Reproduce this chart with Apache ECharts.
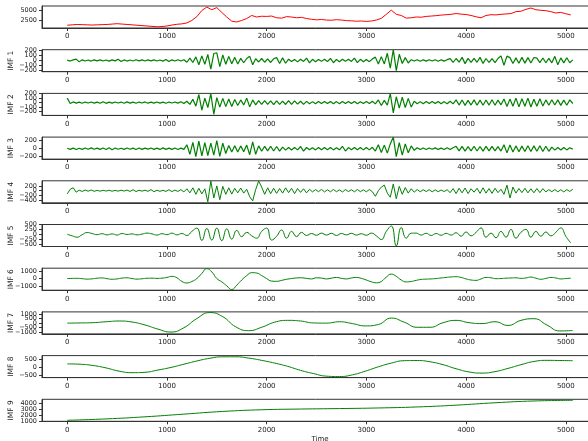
<!DOCTYPE html>
<html>
<head>
<meta charset="utf-8">
<script src="https://cdn.jsdelivr.net/npm/echarts@6/dist/echarts.min.js"></script>
<style>
  html, body { margin: 0; padding: 0; background: #fff; }
  #chart { width: 588px; height: 441px; }
</style>
</head>
<body>
<div id="chart"></div>
<script>
// time axis ticks
const xTicks = [0, 1000, 2000, 3000, 4000, 5000]

// original series, one value every 50 time steps
const price = [
  1150, 1250, 1350, 1300, 1250, 1200, 1250, 1300, 1350, 1450,
  1550, 1450, 1350, 1250, 1150, 1050, 950, 850, 750, 800,
  950, 1200, 1400, 1500, 1750, 2400, 3400, 5000, 5900, 5200,
  5750, 4500, 3300, 2200, 2000, 2400, 2900, 3700, 3300, 3500,
  3450, 3550, 3100, 3000, 3400, 3300, 3100, 3200, 2900, 2700,
  2550, 2650, 2500, 2450, 2600, 2500, 2350, 2300, 2200, 2250,
  2150, 2250, 2500, 2950, 4000, 5100, 4000, 3700, 3000, 3100,
  3300, 3250, 3450, 3550, 3650, 3800, 3900, 4000, 4200, 4050,
  3950, 3700, 3350, 3100, 3700, 3900, 3850, 4000, 4100, 4200,
  4700, 4800, 5300, 5650, 5200, 5050, 4950, 4700, 4350, 4500,
  4150, 3850
]

// IMF 1-4, one value every 30 time steps
const imf1 = [
  5, -12, 10, 25, -28, 12, -10, 8, -12, 10,
  -8, 12, -10, 9, -14, 11, -9, 22, -20, 10,
  -12, 8, -10, 13, -9, 11, -12, 10, -8, 12,
  -11, 9, -13, 20, -22, 12, -10, 14, -12, 15,
  -35, 45, -40, 70, -85, 90, -75, 120, -170, 135,
  150, -120, 110, -75, 80, -65, 60, -70, 40, -45,
  38, 80, -85, 35, -30, 38, -35, 30, -40, 32,
  55, -60, 50, -55, 25, -22, 20, -28, 24, -20,
  45, -48, 22, -25, 20, -18, 24, -22, 42, -45,
  20, -24, 22, -18, 25, -20, 45, -42, 22, -25,
  20, -24, 28, 65, -70, 75, -68, 140, -150, 210,
  -200, 120, -60, 55, -50, 15, -12, 14, -15, 12,
  -14, 15, -12, 13, -15, 12, -14, 15, 35, -40,
  38, -35, 60, -62, 40, -38, 42, -36, 60, -58,
  38, -40, 35, -42, 38, 90, -95, 85, 55, -58,
  50, -55, 60, -52, 55, -50, 58, 45, -42, 48,
  -45, 40, -46, 80, -85, 50, -48, 52, -45, 10
]
const imf2 = [
  100, -20, 15, -12, 10, -14, 12, -10, 13, -11,
  10, -15, 18, -16, 10, -12, 14, -10, 12, -15,
  16, -12, 10, -14, 12, -10, 15, -13, 10, -12,
  14, -11, 10, -15, 12, -10, 14, -12, 18, -20,
  30, -40, 75, -80, 180, -170, 100, -110, 200, -260,
  110, -100, 95, -90, 80, -85, 70, -65, 60, -55,
  100, -95, 60, -50, 45, -40, 42, -38, 40, -45,
  38, -40, 35, -42, 45, -38, 40, -35, 30, -38,
  28, -25, 22, -26, 24, -20, 25, -22, 26, -24,
  22, -25, 24, -20, 26, -22, 24, -25, 20, -22,
  25, -22, 30, -28, 60, -65, 50, -55, 200, -230,
  130, -125, 120, -110, 95, -100, 30, -25, 22, -26,
  24, -20, 25, -22, 26, -24, 22, -25, 30, -28,
  60, -55, 58, -62, 50, -55, 60, -58, 55, -60,
  58, -55, 62, -60, 55, -50, 80, -85, 78, -82,
  100, -95, 85, -80, 100, -98, 75, -80, 85, -78,
  60, -58, 62, -55, 60, -62, 55, -58, 60, -20
]
const imf3 = [
  10, -18, 15, -20, 12, -16, 18, -14, 20, -15,
  14, -18, 16, -20, 22, -25, 18, -15, 12, -16,
  18, -14, 15, -20, 16, -18, 14, -12, 18, -16,
  15, -18, 20, -16, 14, -18, 16, -20, 15, -18,
  100, -140, 160, -200, 190, -180, 150, -170, 140, -160,
  200, -190, 140, -120, 80, -85, 75, -80, 70, -75,
  90, -150, 170, -140, 70, -65, 60, -55, 62, -58,
  55, -60, 40, -35, 30, -32, 28, -30, 55, -60,
  30, -28, 25, -30, 28, -26, 30, -25, 28, -30,
  25, -28, 60, -58, 28, -25, 30, -26, 28, -30,
  32, -30, 35, -60, 100, -95, 90, -110, 120, 290,
  -200, 150, -160, 120, -100, 70, -40, 25, -20, 18,
  -20, 18, -15, 20, -18, 15, -20, 22, -18, 25,
  60, -55, 58, -60, 50, -55, 62, -58, 55, -60,
  58, -55, 60, -55, 50, -60, 100, -105, 95, -80,
  70, -75, 65, -70, 72, -68, 70, -65, 72, -70,
  60, -65, 40, -35, 30, -32, 28, -30, 25, -10
]
const imf4 = [
  -130, 60, 120, -60, 20, -30, 25, -20, 30, -25,
  15, -20, 18, -15, 20, -22, 15, -18, 20, -15,
  25, -30, 40, -35, 20, -18, 22, -25, 45, -40,
  20, -25, 18, -30, 40, -35, 25, -30, 45, -50,
  80, -90, 120, -150, 100, -130, 80, -460, 400, -300,
  200, -370, 180, -150, 120, -140, 100, -90, 110, -100,
  60, -250, -420, 50, 400, 150, -150, 120, -120, 100,
  -110, 90, -100, 120, -80, 100, -120, 90, -70, 80,
  -90, 60, -50, 45, -40, 55, -50, 40, -45, 50,
  -40, 35, -50, 45, -35, 40, -45, 50, -40, 35,
  -45, 50, -40, -230, 0, 150, 230, -100, -270, 280,
  -330, 180, -150, 130, -100, 80, -60, 50, -45, 40,
  -35, 40, -45, 35, -40, 30, -35, 40, -80, 90,
  -120, 100, -90, 110, -120, 80, -60, 100, -110, 120,
  -100, 90, -110, 100, -80, 60, -150, 230, -300, 150,
  -100, 90, -80, 100, -90, 80, -85, 90, -80, 85,
  -50, 45, -40, 50, -45, 40, -50, 45, -30, 60
]

// IMF 5-6, one value every 50 time steps
const imf5 = [
  0, -80, -150, -20, 90, 40, -20, 30, -30, 20,
  -40, 40, -10, 20, -30, 10, 60, 20, -40, 30,
  -20, 60, -30, 40, -60, 150, 320, -320, 300, -300,
  320, -330, 280, -250, 200, -120, 100, -80, -200, 150,
  320, -300, -100, 220, -200, 150, -120, 100, -60, 40,
  -50, 60, -40, 50, -60, 40, -30, 50, -40, 30,
  -50, 60, -80, -270, 150, 430, -600, 350, -200, 60,
  60, -40, 50, -60, 40, -50, 50, -40, 80, -100,
  120, -80, 100, 330, -150, 60, -180, 150, -150, 250,
  -200, 100, 250, -150, 150, -100, 120, -80, 100, 330,
  -100, -450
]
const imf6 = [
  0, 20, 30, -20, -80, -40, 50, 80, -20, -100,
  -50, 60, 100, 0, -80, -30, 40, 50, 20, 50,
  150, 300, 100, -400, -600, -400, 0, 700, 1350, 900,
  0, -450, -1000, -1500, -900, -200, 400, 800, 750, 400,
  0, -350, -380, -250, -100, 0, 80, 100, 20, -50,
  100, 60, -50, 50, 150, 30, -50, 80, 150, 20,
  -200, -450, -580, -400, 200, 600, 300, -200, -460, -400,
  -250, -120, -80, -50, 0, 80, 150, 220, 250, 150,
  -50, -200, -250, -50, 150, 100, -20, 0, 50, 80,
  100, 20, 80, 200, 50, -100, 20, 150, 80, -50,
  0, 50
]

// IMF 7-8, one value every 130 time steps
const imf7 = [
  0, 20, 50, 150, 230, 120, -200, -650, -970, -500,
  500, 1150, 700, -400, -820, -450, 100, 300, 230, 20,
  0, 150, -50, -300, -150, 550, 100, -450, -450, 50,
  300, 50, -50, 150, -250, 300, 480, -200, -850, -800
]
const imf8 = [
  200, 180, 100, -50, -250, -345, -320, -180, -20, 180,
  380, 550, 640, 640, 560, 420, 250, 50, -200, -400,
  -560, -585, -480, -250, 20, 250, 400, 410, 330, 150,
  -100, -300, -370, -280, -80, 150, 350, 420, 410, 400
]

// IMF 9 (residue), one value every 390 time steps
const imf9 = [1120, 1350, 1700, 2150, 2600, 2880, 3000, 3080, 3180, 3350, 3650, 4050, 4350, 4460]

const seriesValues = [price, imf1, imf2, imf3, imf4, imf5, imf6, imf7, imf8, imf9]
const seriesSteps = [50, 30, 30, 30, 30, 50, 50, 130, 130, 390]
const yNames = ['', 'IMF 1', 'IMF 2', 'IMF 3', 'IMF 4', 'IMF 5', 'IMF 6', 'IMF 7', 'IMF 8', 'IMF 9']
const yTicks = [
  [2500, 5000],
  [-200, -100, 0, 100, 200],
  [-200, -100, 0, 100, 200],
  [-200, 0, 200],
  [-400, -200, 0, 200],
  [-500, -250, 0, 250, 500],
  [-1000, 0, 1000],
  [-1000, -500, 0, 500, 1000],
  [-500, 0, 500],
  [1000, 2000, 3000, 4000],
]
const yRanges = [
  [425, 6175], [-220, 210], [-285, 205], [-260, 290], [-500, 410],
  [-630, 505], [-1590, 1410], [-1170, 1220], [-650, 715], [950, 4630],
]

const chart = echarts.init(document.getElementById('chart'))
const font = 'DejaVu Sans'
const axisColor = '#333'
const textColor = '#222'
const grids = []
const xAxes = []
const yAxes = []
const series = []

seriesValues.forEach((values, i) => {
  const last = i === seriesValues.length - 1
  const [yMin, yMax] = yRanges[i]
  grids.push({
    left: 42,
    right: -10,
    top: 6 + i * 43.7,
    height: 22,
    outerBoundsMode: 'none',
    containLabel: false,
    show: true,
    borderColor: axisColor,
    borderWidth: 1,
  })
  xAxes.push({
    type: 'value',
    gridIndex: i,
    min: -253,
    max: 5323,
    name: last ? 'Time' : '',
    nameLocation: 'middle',
    nameGap: 14,
    nameTextStyle: { fontFamily: font, fontSize: 7, color: textColor },
    axisLine: { show: true, onZero: false, lineStyle: { color: axisColor, width: 1 } },
    axisTick: { show: true, length: 3, customValues: xTicks, lineStyle: { color: axisColor } },
    axisLabel: {
      customValues: xTicks,
      margin: 5,
      fontFamily: font,
      fontSize: 7,
      color: textColor,
      hideOverlap: false,
      formatter: (v) => String(v),
    },
    splitLine: { show: false },
  })
  // main y axis: line, ticks and the IMF name, no labels
  const mainIndex = yAxes.length
  yAxes.push({
    type: 'value',
    gridIndex: i,
    position: 'left',
    min: yMin,
    max: yMax,
    name: yNames[i],
    nameLocation: 'middle',
    nameRotate: 90,
    nameGap: 27,
    nameTextStyle: { fontFamily: font, fontSize: 7.5, color: textColor },
    axisLine: { show: true, onZero: false, lineStyle: { color: axisColor, width: 1 } },
    axisTick: { show: true, length: 3, customValues: yTicks[i], lineStyle: { color: axisColor } },
    axisLabel: { show: false },
    splitLine: { show: false },
  })
  // tick labels split over overlaid axes so the crowded ones all stay visible
  for (let g = 0; g < 3; g++) {
    const part = yTicks[i].filter((_, k) => k % 3 === g)
    if (!part.length) continue
    yAxes.push({
      type: 'value',
      gridIndex: i,
      position: 'left',
      offset: 0,
      min: yMin,
      max: yMax,
      axisLine: { show: false, onZero: false },
      axisTick: { show: false },
      axisLabel: {
        customValues: part,
        margin: 5,
        fontFamily: font,
        fontSize: 6.5,
        color: textColor,
        hideOverlap: false,
        showMinLabel: true,
        showMaxLabel: true,
        formatter: (v) => String(v).replace('-', '\u2212'),
      },
      splitLine: { show: false },
    })
  }
  series.push({
    type: 'line',
    xAxisIndex: i,
    yAxisIndex: mainIndex,
    data: values.map((v, j) => [j * seriesSteps[i], v]),
    showSymbol: false,
    smooth: i >= 5,
    lineStyle: { width: i >= 1 && i <= 3 ? 1.2 : 1, color: i === 0 ? '#ff0000' : '#008000' },
    itemStyle: { color: i === 0 ? '#ff0000' : '#008000' },
  })
})

chart.setOption({
  animation: false,
  backgroundColor: '#fff',
  grid: grids,
  xAxis: xAxes,
  yAxis: yAxes,
  series,
})
</script>
</body>
</html>
